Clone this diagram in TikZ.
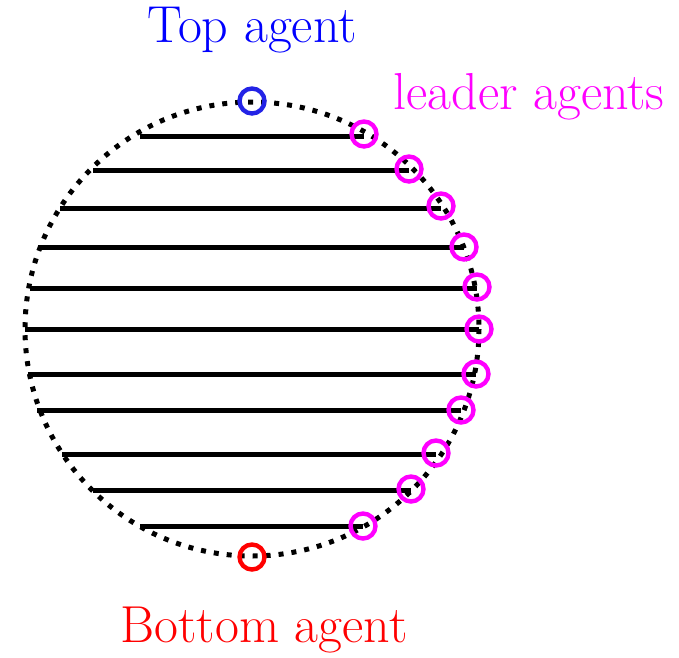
\documentclass[tikz,border=0pt]{standalone}
\definecolor{mag}{RGB}{255,0,255}
\definecolor{topblue}{RGB}{35,35,230}
\definecolor{txtblue}{RGB}{0,0,255}
\definecolor{myred}{RGB}{255,0,0}
\begin{document}
\begin{tikzpicture}[x=1pt,y=-1pt,
  agent/.style={circle,draw,line width=4.4pt,minimum size=25pt,inner sep=0pt},
  leader/.style={agent,draw=mag},
  hline/.style={line width=5pt},
  lbl/.style={font=\fontsize{52}{56}\selectfont,inner sep=0pt}]
\useasboundingbox (0,0) rectangle (679,657);
\coordinate (c) at (252,329);
\draw[line width=5pt,dash pattern=on 5pt off 8pt] (c) circle (227);
\foreach \i/\y/\lx/\rx/\ry in {1/136/140/364/134, 2/170/93/409/169, 3/208/60/441/206,
  4/247/38/464/247, 5/288/30/477/287, 6/329/25/479/329, 7/374/28/476/374,
  8/410/37/461/410, 9/454/62/436/453, 10/490/93/411/489, 11/526/140/363/526}{
  \coordinate (a\i) at (\lx,\y);
  \coordinate (e\i) at (\rx,\y);
  \draw[hline] (a\i) -- (e\i);
  \node[leader] (l\i) at (\rx,\ry) {};
}
\node[agent,draw=topblue] (top) at (252,101) {};
\node[agent,draw=myred] (bot) at (252,557) {};
\node[lbl,text=txtblue] (toplbl) at (252,30) {Top agent};
\node[lbl,text=mag] (leadlbl) at (529,97) {leader agents};
\node[lbl,text=myred] (botlbl) at (264,630) {Bottom agent};
\end{tikzpicture}
\end{document}
